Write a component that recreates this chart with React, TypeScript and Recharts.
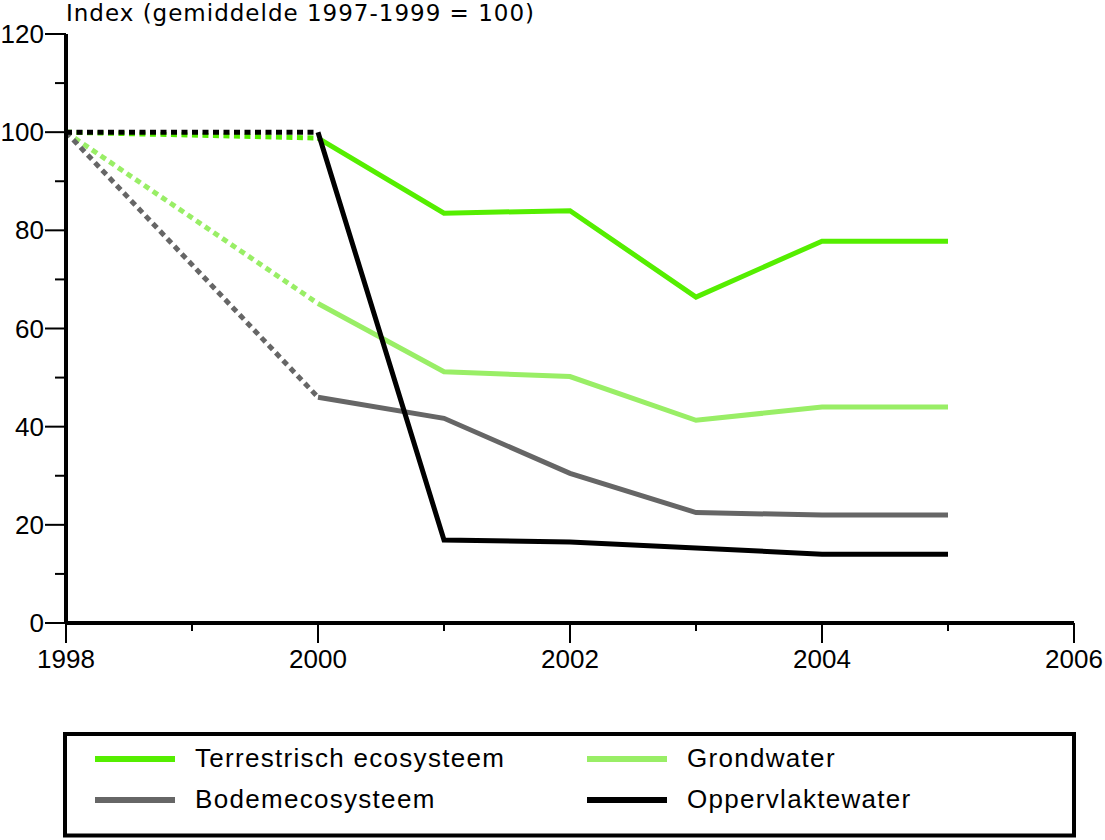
import { LineChart, Line, XAxis, YAxis } from 'recharts';

// years on the x axis
const years = [1998, 1999, 2000, 2001, 2002, 2003, 2004, 2005];

// index values per series (1998 -> 2000 is drawn dotted, from 2000 on solid)
const terrestrisch = [100, null, 98.8, 83.5, 84, 66.4, 77.8, 77.8];
const grondwater = [100, null, 65.1, 51.2, 50.2, 41.3, 44, 44];
const bodem = [100, null, 46, 41.7, 30.5, 22.5, 22, 22];
const oppervlakte = [100, null, 100, 16.9, 16.5, 15.3, 14, 14];

const xTicks = [1998, 1999, 2000, 2001, 2002, 2003, 2004, 2005, 2006];
const yTicks = [0, 10, 20, 30, 40, 50, 60, 70, 80, 90, 100, 110, 120];

const series = [
  { key: 'terr', name: 'Terrestrisch ecosysteem', color: '#55ee00', values: terrestrisch },
  { key: 'grond', name: 'Grondwater', color: '#99ee66', values: grondwater },
  { key: 'bodem', name: 'Bodemecosysteem', color: '#666666', values: bodem },
  { key: 'opp', name: 'Oppervlaktewater', color: '#000000', values: oppervlakte },
];

// dotted part only holds 1998 and 2000, solid part 2000 onward
const data = years.map((year, i) => {
  const row: any = { year };
  series.forEach((s) => {
    row[s.key + 'Dot'] = year <= 2000 ? s.values[i] : null;
    row[s.key] = year >= 2000 ? s.values[i] : null;
  });
  return row;
});

const FONT = '"Liberation Sans", Arial, sans-serif';

const XTick = (props: any) => {
  const { x, y, payload } = props;
  const major = payload.value % 2 === 0;
  return (
    <g>
      <line x1={x} x2={x} y1={y} y2={y + (major ? 20 : 8)} stroke="#000" strokeWidth={2} />
      {major && (
        <text x={x} y={y + 45} textAnchor="middle" fontSize={26} fontFamily={FONT} fill="#000">
          {payload.value}
        </text>
      )}
    </g>
  );
};

const YTick = (props: any) => {
  const { x, y, payload } = props;
  const major = payload.value % 20 === 0;
  return (
    <g>
      <line x1={x - (major ? 21 : 11)} x2={x} y1={y} y2={y} stroke="#000" strokeWidth={2} />
      {major && (
        <text x={x - 22} y={y + 9} textAnchor="end" fontSize={26} fontFamily={FONT} fill="#000">
          {payload.value}
        </text>
      )}
    </g>
  );
};

const legendPos = [
  { x: 95, y: 759 },
  { x: 587, y: 759 },
  { x: 95, y: 800 },
  { x: 587, y: 800 },
];

export default function App() {
  return (
    <div style={{ position: 'absolute', left: 0, top: 0, width: 1105, height: 840, background: '#fff' }}>
      <LineChart
        width={1105}
        height={840}
        data={data}
        margin={{ top: 34, right: 31, bottom: 0, left: 0 }}
      >
        <XAxis
          dataKey="year"
          type="number"
          domain={[1998, 2006]}
          ticks={xTicks}
          interval={0}
          height={217}
          tickSize={0}
          tickMargin={0}
          tickLine={false}
          axisLine={{ stroke: '#000', strokeWidth: 4 }}
          tick={<XTick />}
        />
        <YAxis
          type="number"
          domain={[0, 120]}
          ticks={yTicks}
          interval={0}
          width={66}
          tickSize={0}
          tickMargin={0}
          tickLine={false}
          axisLine={{ stroke: '#000', strokeWidth: 4 }}
          tick={<YTick />}
        />
        {series.map((s) => (
          <Line
            key={s.key + 'Dot'}
            dataKey={s.key + 'Dot'}
            stroke={s.color}
            strokeWidth={5}
            strokeDasharray="6 4.5"
            dot={false}
            connectNulls
            isAnimationActive={false}
          />
        ))}
        {series.map((s) => (
          <Line
            key={s.key}
            dataKey={s.key}
            stroke={s.color}
            strokeWidth={5}
            dot={false}
            isAnimationActive={false}
          />
        ))}
      </LineChart>
      <svg
        width={1105}
        height={840}
        style={{ position: 'absolute', left: 0, top: 0, pointerEvents: 'none' }}
      >
        <text
          x={66}
          y={21}
          fontSize={23}
          letterSpacing={1}
          fontFamily='"DejaVu Sans", "Liberation Sans", sans-serif'
          fill="#000"
        >
          Index (gemiddelde 1997-1999 = 100)
        </text>
        <rect x={65} y={734} width={1009} height={101.5} fill="none" stroke="#000" strokeWidth={4} />
        {series.map((s, i) => (
          <g key={s.key}>
            <line
              x1={legendPos[i].x}
              x2={legendPos[i].x + 80}
              y1={legendPos[i].y}
              y2={legendPos[i].y}
              stroke={s.color}
              strokeWidth={6}
            />
            <text
              x={legendPos[i].x + 100}
              y={legendPos[i].y + 8}
              fontSize={26}
              letterSpacing={1.3}
              fontFamily={FONT}
              fill="#000"
            >
              {s.name}
            </text>
          </g>
        ))}
      </svg>
    </div>
  );
}
